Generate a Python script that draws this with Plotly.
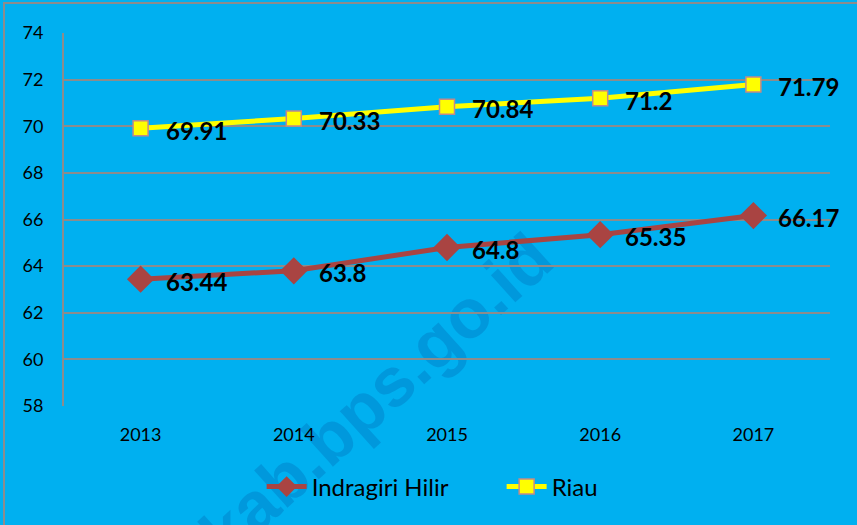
import plotly.graph_objects as go

years = ["2013", "2014", "2015", "2016", "2017"]
indragiri_hilir = [63.44, 63.8, 64.8, 65.35, 66.17]
riau = [69.91, 70.33, 70.84, 71.2, 71.79]
y_ticks = [58, 60, 62, 64, 66, 68, 70, 72, 74]

BG = "#00B0F0"
FONT = "Lato, Open Sans, sans-serif"

fig = go.Figure()

fig.add_trace(go.Scatter(
    x=years, y=indragiri_hilir, name="Indragiri Hilir", mode="lines+markers",
    line=dict(color="#A94442", width=5),
    marker=dict(symbol="diamond", size=21, color="#A94442"),
))
fig.add_trace(go.Scatter(
    x=years, y=riau, name="Riau", mode="lines+markers",
    line=dict(color="#FFFF00", width=5),
    marker=dict(symbol="square", size=15, color="#FFFF00",
                line=dict(color="#C08A8A", width=1.5)),
))

for series in (indragiri_hilir, riau):
    for i, yv in enumerate(series):
        fig.add_annotation(x=i, y=yv, text=f"{yv:g}", showarrow=False,
                           xanchor="left", yanchor="middle", xshift=23, yshift=-2,
                           font=dict(family=FONT, size=24, color="black", weight="bold"))

# outer border
fig.add_shape(type="rect", xref="paper", yref="paper",
              x0=(4 - 64) / 766, x1=1.2, y0=-0.5, y1=1 + 30 / 373,
              line=dict(color="#8C8C8C", width=2), layer="below")

# watermark behind the data
fig.add_shape(type="rect", xref="paper", yref="paper",
              x0=0.233, x1=0.433, y0=-0.186, y1=0.014,
              line=dict(width=0), fillcolor="rgba(0,0,0,0)", layer="below",
              label=dict(text="inhilkab.bps.go.id", textangle=-42,
                         textposition="middle center",
                         font=dict(family="Liberation Sans, Arial", size=69,
                                   color="rgba(0,60,140,0.2)", weight="bold")))

fig.update_layout(
    width=857, height=525,
    margin=dict(l=64, r=27, t=33, b=119, autoexpand=False),
    paper_bgcolor=BG, plot_bgcolor=BG,
    font=dict(family=FONT, size=18, color="black"),
    showlegend=True,
    legend=dict(orientation="h", x=0.258, xanchor="left", y=-0.217, yanchor="middle",
                font=dict(family=FONT, size=24, color="black"), bgcolor="rgba(0,0,0,0)",
                itemwidth=40, entrywidth=185),
    xaxis=dict(type="category", range=[-0.5, 4.5], showgrid=False, zeroline=False,
               showline=False, ticks="", tickfont=dict(size=18), ticklabelstandoff=16),
    yaxis=dict(range=[58, 74], tickvals=y_ticks, showgrid=True, gridcolor="#8C8C8C",
               gridwidth=2, zeroline=False, showline=True, linecolor="#8C8C8C", linewidth=2,
               ticks="", ticklabelstandoff=15, tickfont=dict(size=18)),
)

fig.write_html("out.html", config={"displayModeBar": False},
               post_script="document.body.style.margin='0';document.body.style.padding='0';")
